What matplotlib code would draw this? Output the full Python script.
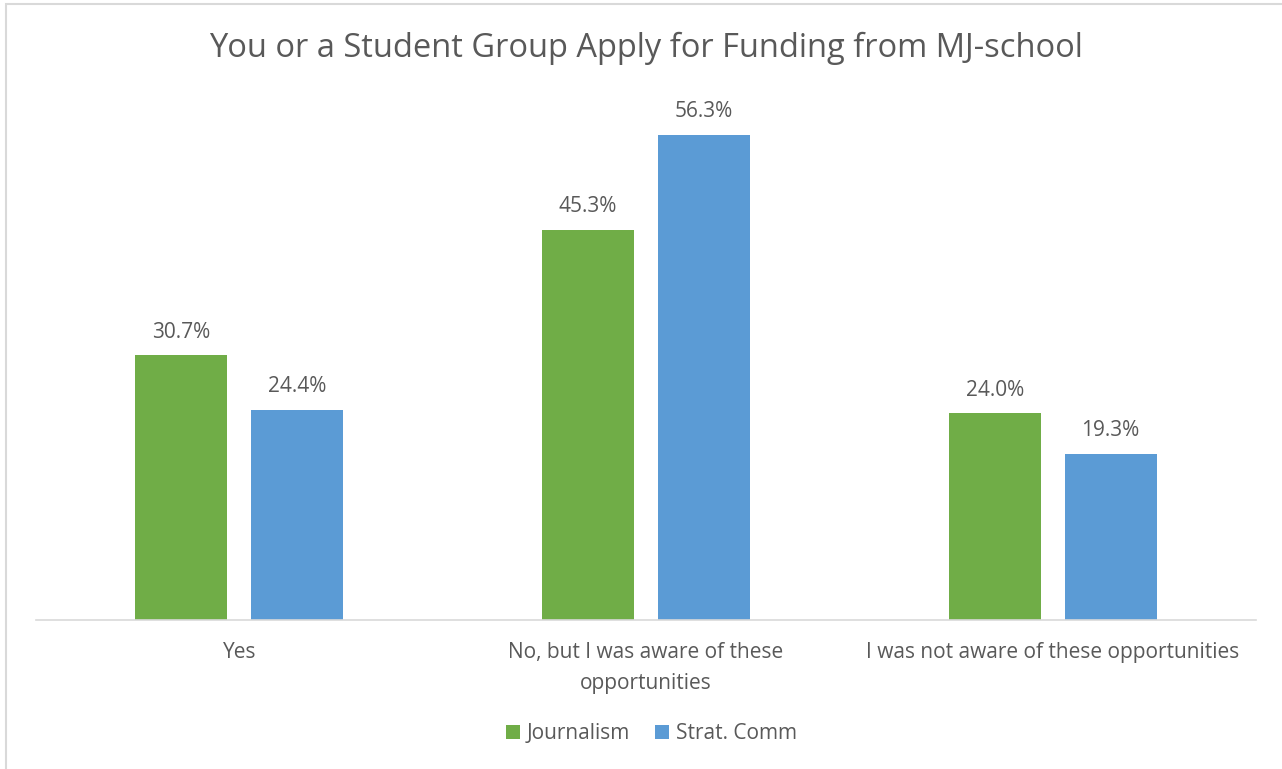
import numpy as np
import matplotlib.pyplot as plt
from matplotlib.patches import Rectangle

categories = ['Yes', 'No, but I was aware of these\nopportunities', 'I was not aware of these opportunities']
journalism = [30.7, 45.3, 24.0]
strat_comm = [24.4, 56.3, 19.3]

text_color = '#595959'
plt.rcParams['font.family'] = ['Open Sans', 'DejaVu Sans']

fig = plt.figure(figsize=(12.82, 7.69), dpi=100)
ax = fig.add_axes([0.0281, 0.1938, 0.9516, 0.6722])

x = np.arange(len(categories))
w = 0.226
off = 0.1425
b1 = ax.bar(x - off, journalism, w, color='#70AD47', label='Journalism')
b2 = ax.bar(x + off, strat_comm, w, color='#5B9BD5', label='Strat. Comm')

for bars, vals in [(b1, journalism), (b2, strat_comm)]:
    for r, v in zip(bars, vals):
        ax.annotate(f'{v:.1f}%', (r.get_x() + r.get_width() / 2, v),
                    xytext=(0, 9), textcoords='offset points',
                    ha='center', va='bottom', fontsize=15, color=text_color)

ax.set_xlim(-0.5, 2.5)
ax.set_ylim(0, 60)
ax.set_yticks([])
ax.set_xticks(x)
ax.set_xticklabels(categories, fontsize=15, color=text_color, linespacing=1.6)
ax.tick_params(axis='x', length=0, pad=16)
for s in ['top', 'left', 'right']:
    ax.spines[s].set_visible(False)
ax.spines['bottom'].set_color('#D9D9D9')
ax.spines['bottom'].set_linewidth(1.2)

fig.text(0.504, 0.937, 'You or a Student Group Apply for Funding from MJ-school',
         ha='center', va='center', fontsize=23.5, color=text_color)

leg = fig.legend(loc='center', bbox_to_anchor=(0.508, 0.046), ncol=2, frameon=False,
                 fontsize=15, handlelength=0.7, handleheight=0.7,
                 handletextpad=0.3, columnspacing=1.2, labelcolor=text_color)

fig.patches.append(Rectangle((0.005, -0.01), 1.1, 1.005, transform=fig.transFigure,
                             fill=False, edgecolor='#D9D9D9', linewidth=1.5))

fig.savefig('out.png', dpi=100, facecolor='white')
